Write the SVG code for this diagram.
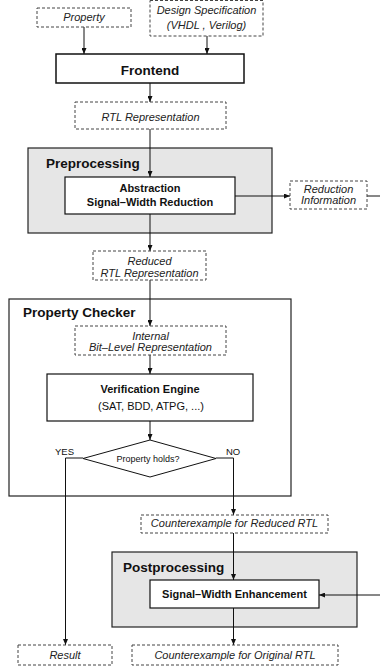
<svg xmlns="http://www.w3.org/2000/svg" width="380" height="668" viewBox="0 0 380 668">
<defs>
<marker id="arr" markerWidth="6" markerHeight="5" refX="6" refY="2.5" orient="auto" markerUnits="userSpaceOnUse">
<path d="M0,0 L6,2.5 L0,5 Z" fill="#111"/>
</marker>
</defs>
<style>
.dash{fill:#fff;stroke:#444;stroke-width:1;stroke-dasharray:3,2}
.box{fill:#fff;stroke:#111;stroke-width:1.2}
.grp{fill:#e6e6e6;stroke:#222;stroke-width:1.2}
.frame{fill:#fff;stroke:#222;stroke-width:1.2}
.it{font-family:"Liberation Sans",Arial,sans-serif;font-style:italic;font-size:11px;fill:#222;text-anchor:middle}
.b{font-family:"Liberation Sans",Arial,sans-serif;font-weight:bold;font-size:11px;fill:#111;text-anchor:middle}
.r{font-family:"Liberation Sans",Arial,sans-serif;font-size:11px;fill:#111;text-anchor:middle}
.h{font-family:"Liberation Sans",Arial,sans-serif;font-weight:bold;font-size:13.5px;fill:#111}
.s{font-family:"Liberation Sans",Arial,sans-serif;font-size:9.5px;fill:#111}
.c{fill:none;stroke:#111;stroke-width:1}
</style>
<g id="preprocessing-group"><rect class="grp" x="28" y="148" width="244" height="85"/><text class="h" x="46" y="167.5">Preprocessing</text></g>
<g id="property-checker-group"><rect class="frame" x="9" y="299" width="282" height="197"/><text class="h" x="23" y="317">Property Checker</text></g>
<g id="postprocessing-group"><rect class="grp" x="112" y="552" width="245" height="75"/><text class="h" x="123" y="572">Postprocessing</text></g>
<g id="connectors">
<path class="c" d="M84,27 V54" marker-end="url(#arr)"/>
<path class="c" d="M207,36 V54" marker-end="url(#arr)"/>
<path class="c" d="M150,83 V102" marker-end="url(#arr)"/>
<path class="c" d="M150,129 V177" marker-end="url(#arr)"/>
<path class="c" d="M235,196 H290" marker-end="url(#arr)"/>
<path class="c" d="M367,196 H380"/>
<path class="c" d="M150,214 V251" marker-end="url(#arr)"/>
<path class="c" d="M150,280 V326" marker-end="url(#arr)"/>
<path class="c" d="M150,355 V374" marker-end="url(#arr)"/>
<path class="c" d="M150,421 V440" marker-end="url(#arr)"/>
<path class="c" d="M83,458 H65.5 V645" marker-end="url(#arr)"/>
<path class="c" d="M216,458 H233.5 V515" marker-end="url(#arr)"/>
<path class="c" d="M233.5,533 V580" marker-end="url(#arr)"/>
<path class="c" d="M380,595 H319" marker-end="url(#arr)"/>
<path class="c" d="M233.5,608 V645" marker-end="url(#arr)"/>
</g>
<g id="property"><rect class="dash" x="37" y="8" width="94" height="19"/><text class="it" x="84" y="20.5">Property</text></g>
<g id="design-spec"><rect class="dash" x="150" y="0.5" width="113" height="35.5"/><text class="it" x="206.5" y="13.5">Design Specification</text><text class="it" x="206.5" y="28.5">(VHDL , Verilog)</text></g>
<g id="frontend"><rect class="box" x="56" y="54" width="188" height="29" style="stroke-width:1.5"/><text class="b" x="150" y="74.5" style="font-size:13.5px">Frontend</text></g>
<g id="rtl"><rect class="dash" x="75" y="102" width="151" height="27"/><text class="it" x="150.5" y="120.5">RTL Representation</text></g>
<g id="abstraction"><rect class="box" x="65" y="177" width="170" height="37"/><text class="b" x="150" y="192">Abstraction</text><text class="b" x="150" y="206">Signal–Width Reduction</text></g>
<g id="reduction-info"><rect class="dash" x="290" y="181" width="77" height="28"/><text class="it" x="328.5" y="192.5">Reduction</text><text class="it" x="328.5" y="203.5">Information</text></g>
<g id="reduced-rtl"><rect class="dash" x="93" y="251" width="113" height="29"/><text class="it" x="149.5" y="264.5">Reduced</text><text class="it" x="149.5" y="276.5">RTL Representation</text></g>
<g id="internal"><rect class="dash" x="75" y="326" width="151" height="29"/><text class="it" x="150.5" y="339.5">Internal</text><text class="it" x="150.5" y="351">Bit–Level Representation</text></g>
<g id="verification-engine"><rect class="box" x="47" y="374" width="206" height="47"/><text class="b" x="150" y="392.5">Verification Engine</text><text class="r" x="151" y="410">(SAT, BDD, ATPG, ...)</text></g>
<g id="decision"><path d="M150,440 L216,458.5 L150,477 L83,458.5 Z" fill="#fff" stroke="#111" stroke-width="1"/><text class="s" x="148" y="461.5" style="text-anchor:middle;font-size:9px">Property holds?</text><text class="s" x="55" y="454.5">YES</text><text class="s" x="226" y="454.5">NO</text></g>
<g id="ce-reduced"><rect class="dash" x="141" y="515" width="187" height="18"/><text class="it" x="234.5" y="527">Counterexample for Reduced RTL</text></g>
<g id="enhancement"><rect class="box" x="150" y="580" width="169" height="28"/><text class="b" x="234.5" y="598">Signal–Width Enhancement</text></g>
<g id="result"><rect class="dash" x="18" y="645" width="94" height="20"/><text class="it" x="65" y="658.5">Result</text></g>
<g id="ce-original"><rect class="dash" x="132" y="645" width="206" height="20"/><text class="it" x="235" y="658.5">Counterexample for Original RTL</text></g>
</svg>
